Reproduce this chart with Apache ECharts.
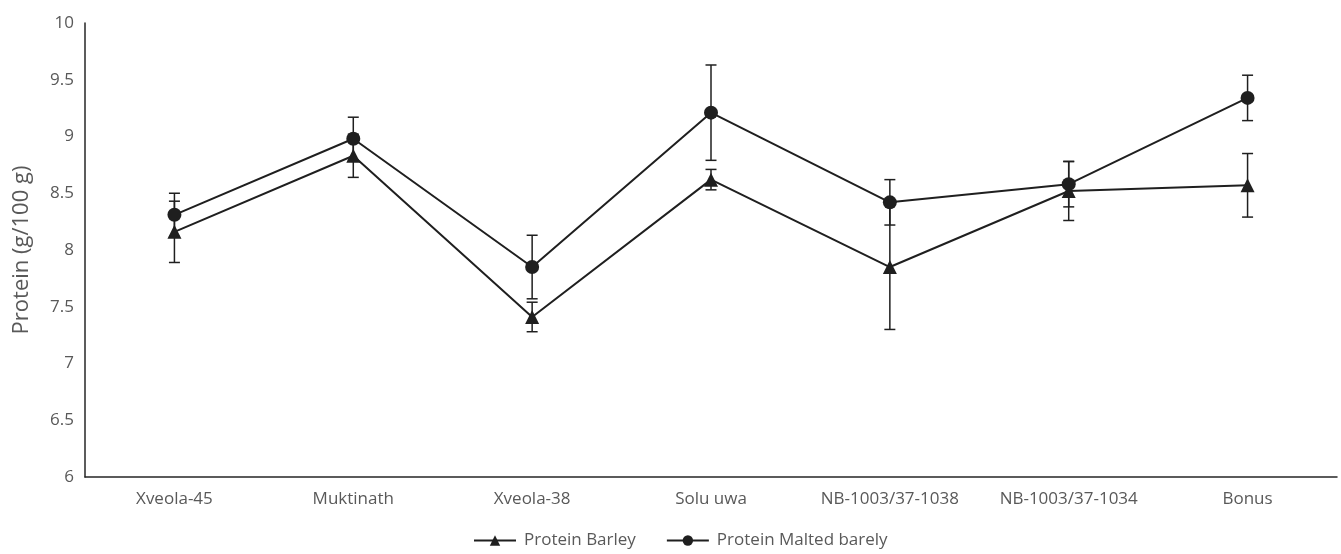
<!DOCTYPE html>
<html>
<head>
<meta charset="utf-8">
<script src="https://cdn.jsdelivr.net/npm/echarts@6/dist/echarts.min.js"></script>
<style>html,body{margin:0;padding:0;background:#fff}#c{width:1341px;height:554px}</style>
</head>
<body>
<div id="c"></div>
<script>
const categories = ['Xveola-45', 'Muktinath', 'Xveola-38', 'Solu uwa', 'NB-1003/37-1038', 'NB-1003/37-1034', 'Bonus'];
const barley = [8.16, 8.83, 7.41, 8.62, 7.85, 8.52, 8.57];
const barleyErr = [0.27, 0.19, 0.13, 0.09, 0.55, 0.26, 0.28];
const malted = [8.31, 8.98, 7.85, 9.21, 8.42, 8.58, 9.34];
const maltedErr = [0.19, 0.19, 0.28, 0.42, 0.20, 0.20, 0.20];
const yTicks = [6, 6.5, 7, 7.5, 8, 8.5, 9, 9.5, 10];

const lineColor = '#1f1f1f';
const textColor = '#595959';
const font = 'Open Sans, Liberation Sans, sans-serif';

function errData(vals, errs) {
  return vals.map((v, i) => [i, v - errs[i], v + errs[i]]);
}
function errRender(params, api) {
  const x = api.value(0);
  const lo = api.coord([x, api.value(1)]);
  const hi = api.coord([x, api.value(2)]);
  const hw = 5.5;
  const style = { stroke: lineColor, lineWidth: 1.5, fill: null };
  return {
    type: 'group',
    children: [
      { type: 'line', shape: { x1: lo[0], y1: lo[1], x2: hi[0], y2: hi[1] }, style },
      { type: 'line', shape: { x1: lo[0] - hw, y1: lo[1], x2: lo[0] + hw, y2: lo[1] }, style },
      { type: 'line', shape: { x1: hi[0] - hw, y1: hi[1], x2: hi[0] + hw, y2: hi[1] }, style }
    ]
  };
}

const chart = echarts.init(document.getElementById('c'), null, { renderer: 'canvas' });
chart.setOption({
  animation: false,
  backgroundColor: '#fff',
  grid: { left: 85, right: 4, top: 23, bottom: 77, containLabel: false },
  legend: {
    top: 527,
    left: 468,
    itemWidth: 42,
    itemHeight: 13,
    itemGap: 30,
    textStyle: { color: textColor, fontSize: 17, fontFamily: font, padding: [0, 0, 0, 3] },
    data: ['Protein Barley', 'Protein Malted barely']
  },
  xAxis: {
    type: 'category',
    data: categories,
    boundaryGap: true,
    axisLine: { lineStyle: { color: '#262626', width: 1.5 } },
    axisTick: { show: false },
    axisLabel: { color: textColor, fontSize: 17, fontFamily: font, margin: 14, interval: 0 },
    splitLine: { show: false }
  },
  yAxis: {
    type: 'value',
    min: yTicks[0],
    max: yTicks[yTicks.length - 1],
    interval: 0.5,
    name: 'Protein (g/100 g)',
    nameLocation: 'middle',
    nameGap: 52,
    nameTextStyle: { color: textColor, fontSize: 22, fontFamily: font },
    axisLine: { show: true, lineStyle: { color: '#262626', width: 1.5 } },
    axisTick: { show: false },
    axisLabel: { color: textColor, fontSize: 17, fontFamily: font, margin: 11 },
    splitLine: { show: false }
  },
  series: [
    {
      name: 'Protein Barley',
      type: 'line',
      data: barley,
      symbol: 'triangle',
      symbolSize: 14,
      lineStyle: { color: lineColor, width: 2 },
      itemStyle: { color: lineColor },
      z: 3
    },
    {
      name: 'Protein Malted barely',
      type: 'line',
      data: malted,
      symbol: 'circle',
      symbolSize: 14,
      lineStyle: { color: lineColor, width: 2 },
      itemStyle: { color: lineColor },
      z: 3
    },
    {
      name: 'err1',
      type: 'custom',
      renderItem: errRender,
      data: errData(barley, barleyErr),
      encode: { x: 0, y: [1, 2] },
      z: 2
    },
    {
      name: 'err2',
      type: 'custom',
      renderItem: errRender,
      data: errData(malted, maltedErr),
      encode: { x: 0, y: [1, 2] },
      z: 2
    }
  ]
});
</script>
</body>
</html>
